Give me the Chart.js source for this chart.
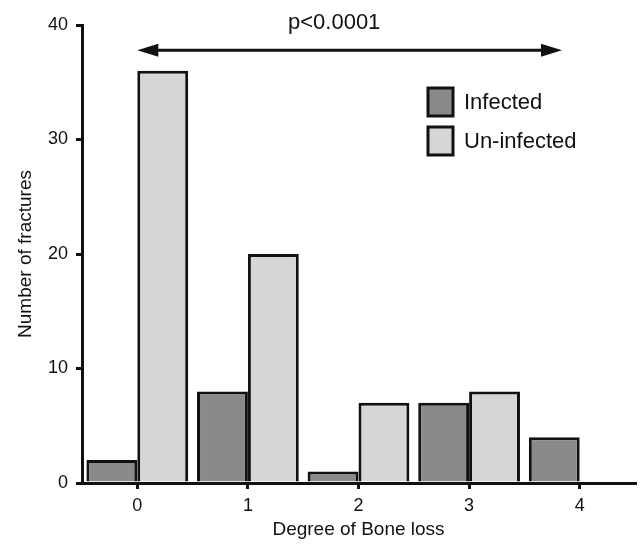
<!DOCTYPE html>
<html lang="en">
  <head>
    <meta charset="UTF-8" />
    <title>Degree of Bone loss</title>
    <script src="https://cdn.jsdelivr.net/npm/chart.js"></script>
    <style>
      html, body { margin: 0; padding: 0; background: #ffffff; }
      .chart-container { position: relative; width: 640px; height: 544px; }
    </style>
  </head>
  <body>
    <div class="chart-container">
      <canvas id="boneChart"></canvas>
    </div>

    <script>
      const categories = ["0", "1", "2", "3", "4"];
      const infected = [2, 8, 1, 7, 4];
      const uninfected = [36, 20, 7, 8, 0];
      const yTicks = [0, 10, 20, 30, 40];
      const pLabel = "p<0.0001";

      const FONT = "'Liberation Sans', Arial, sans-serif";
      const INK = "#111111";

      // arrow over the bars + p value + legend box
      const annotations = {
        id: "annotations",
        afterDatasetsDraw(chart) {
          const { ctx, scales } = chart;
          const x = scales.x, y = scales.y;
          const x0 = x.getPixelForValue(0);
          const x1 = x.getPixelForValue(3.84);
          const ya = y.getPixelForValue(37.8);
          ctx.save();
          ctx.strokeStyle = INK;
          ctx.fillStyle = INK;
          ctx.lineWidth = 3;
          ctx.beginPath();
          ctx.moveTo(x0 + 10, ya);
          ctx.lineTo(x1 - 10, ya);
          ctx.stroke();
          const head = 21, half = 6.5;
          ctx.beginPath();
          ctx.moveTo(x0, ya);
          ctx.lineTo(x0 + head, ya - half);
          ctx.lineTo(x0 + head, ya + half);
          ctx.closePath();
          ctx.fill();
          ctx.beginPath();
          ctx.moveTo(x1, ya);
          ctx.lineTo(x1 - head, ya - half);
          ctx.lineTo(x1 - head, ya + half);
          ctx.closePath();
          ctx.fill();

          ctx.font = "22px " + FONT;
          ctx.textAlign = "center";
          ctx.textBaseline = "alphabetic";
          ctx.fillText(pLabel, x.getPixelForValue(1.78), y.getPixelForValue(39.65));

          // legend
          const items = chart.data.datasets;
          const lx = 428, ly = [88, 127];
          ctx.textAlign = "left";
          ctx.textBaseline = "middle";
          items.forEach((ds, i) => {
            ctx.fillStyle = ds.backgroundColor;
            ctx.fillRect(lx, ly[i], 25, 28);
            ctx.lineWidth = 3;
            ctx.strokeStyle = INK;
            ctx.strokeRect(lx, ly[i], 25, 28);
            ctx.fillStyle = INK;
            ctx.fillText(ds.label, lx + 36, ly[i] + 15);
          });
          ctx.restore();
        },
      };

      new Chart(document.getElementById("boneChart"), {
        type: "bar",
        data: {
          labels: categories,
          datasets: [
            {
              label: "Infected",
              data: infected,
              backgroundColor: "#8a8a8a",
              borderColor: INK,
              borderWidth: 3,
              borderSkipped: "bottom",
            },
            {
              label: "Un-infected",
              data: uninfected,
              backgroundColor: "#d6d6d6",
              borderColor: INK,
              borderWidth: 3,
              borderSkipped: "bottom",
            },
          ],
        },
        options: {
          responsive: true,
          maintainAspectRatio: false,
          animation: false,
          datasets: { bar: { categoryPercentage: 0.92, barPercentage: 1 } },
          layout: { padding: { top: 25, right: 5, bottom: 0, left: 0 } },
          plugins: { legend: { display: false }, tooltip: { enabled: false } },
          scales: {
            x: {
              grid: {
                display: true,
                offset: false,
                drawOnChartArea: false,
                drawTicks: true,
                tickLength: 6,
                color: INK,
                lineWidth: 3,
              },
              border: { display: true, color: INK, width: 3 },
              ticks: { color: INK, font: { size: 18, family: FONT }, padding: 6 },
              title: {
                display: true,
                text: "Degree of Bone loss",
                color: INK,
                font: { size: 19, family: FONT },
                padding: { top: 0, bottom: 3 },
              },
              afterFit(scale) { scale.height = 61; },
            },
            y: {
              min: 0,
              max: 40,
              afterBuildTicks(scale) { scale.ticks = yTicks.map((v) => ({ value: v })); },
              grid: {
                display: true,
                drawOnChartArea: false,
                drawTicks: true,
                tickLength: 6,
                color: INK,
                lineWidth: 3,
              },
              border: { display: true, color: INK, width: 3 },
              ticks: { color: INK, font: { size: 18, family: FONT }, padding: 8 },
              title: {
                display: true,
                text: "Number of fractures",
                color: INK,
                font: { size: 19, family: FONT },
                padding: { top: 14, bottom: 0 },
              },
              afterFit(scale) { scale.width = 82; },
            },
          },
        },
        plugins: [annotations],
      });
    </script>
  </body>
</html>
